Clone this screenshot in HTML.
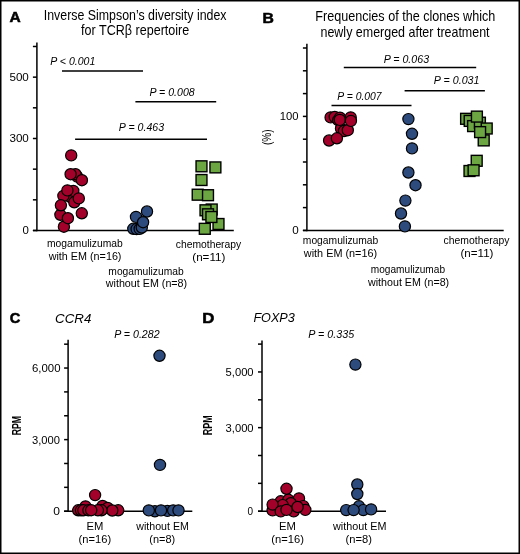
<!DOCTYPE html>
<html><head><meta charset="utf-8"><style>
html,body{margin:0;padding:0;background:#fff;}
svg{display:block;will-change:transform;}
text{font-family:"Liberation Sans",sans-serif;fill:#000;}
</style></head><body>
<svg width="520" height="554" viewBox="0 0 520 554">
<rect x="0" y="0" width="520" height="554" fill="#fff"/>
<text x="9.51" y="21.70" font-size="15" textLength="11.21" lengthAdjust="spacingAndGlyphs" font-weight="bold" stroke="#000" stroke-width="0.55">A</text>
<text x="43.79" y="20.00" font-size="13.9" textLength="182.75" lengthAdjust="spacingAndGlyphs">Inverse Simpson’s diversity index</text>
<text x="81.11" y="35.20" font-size="13.9" textLength="108.15" lengthAdjust="spacingAndGlyphs">for TCRβ repertoire</text>
<line x1="36.9" y1="42.5" x2="36.9" y2="231.25" stroke="#000" stroke-width="1.5"/>
<line x1="32.9" y1="230.5" x2="36.9" y2="230.5" stroke="#000" stroke-width="1.5"/>
<line x1="32.9" y1="199.83" x2="36.9" y2="199.83" stroke="#000" stroke-width="1.5"/>
<line x1="32.9" y1="169.16" x2="36.9" y2="169.16" stroke="#000" stroke-width="1.5"/>
<line x1="32.9" y1="138.49" x2="36.9" y2="138.49" stroke="#000" stroke-width="1.5"/>
<line x1="32.9" y1="107.82" x2="36.9" y2="107.82" stroke="#000" stroke-width="1.5"/>
<line x1="32.9" y1="77.15" x2="36.9" y2="77.15" stroke="#000" stroke-width="1.5"/>
<line x1="32.9" y1="46.48" x2="36.9" y2="46.48" stroke="#000" stroke-width="1.5"/>
<line x1="32.9" y1="230.5" x2="233.8" y2="230.5" stroke="#000" stroke-width="1.5"/>
<text x="9.43" y="81.15" font-size="11" textLength="19.41" lengthAdjust="spacingAndGlyphs">500</text>
<text x="9.43" y="142.49" font-size="11" textLength="19.41" lengthAdjust="spacingAndGlyphs">300</text>
<text x="22.44" y="234.30" font-size="11" textLength="6.37" lengthAdjust="spacingAndGlyphs">0</text>
<line x1="62" y1="71" x2="143" y2="71" stroke="#000" stroke-width="1.5"/>
<text x="50.28" y="65.30" font-size="10" textLength="45.03" lengthAdjust="spacingAndGlyphs" font-style="italic">P &lt; 0.001</text>
<line x1="135.4" y1="101.7" x2="216.2" y2="101.7" stroke="#000" stroke-width="1.5"/>
<text x="149.48" y="96.20" font-size="10" textLength="45.19" lengthAdjust="spacingAndGlyphs" font-style="italic">P = 0.008</text>
<line x1="75.1" y1="139.2" x2="207" y2="139.2" stroke="#000" stroke-width="1.5"/>
<text x="118.88" y="130.90" font-size="10" textLength="45.19" lengthAdjust="spacingAndGlyphs" font-style="italic">P = 0.463</text>
<text x="47.03" y="246.90" font-size="10.2" textLength="75.70" lengthAdjust="spacingAndGlyphs">mogamulizumab</text>
<text x="48.70" y="259.80" font-size="10.2" textLength="72.78" lengthAdjust="spacingAndGlyphs">with EM (n=16)</text>
<text x="108.33" y="274.70" font-size="10.2" textLength="75.40" lengthAdjust="spacingAndGlyphs">mogamulizumab</text>
<text x="105.80" y="287.40" font-size="10.2" textLength="81.36" lengthAdjust="spacingAndGlyphs">without EM (n=8)</text>
<text x="175.79" y="247.80" font-size="10.2" textLength="65.43" lengthAdjust="spacingAndGlyphs">chemotherapy</text>
<text x="192.30" y="260.50" font-size="10.2" textLength="33.04" lengthAdjust="spacingAndGlyphs">(n=11)</text>
<circle cx="63.9" cy="226.7" r="5.6" fill="#A3002A" stroke="#000" stroke-width="1.2"/>
<circle cx="81.8" cy="213.3" r="5.6" fill="#A3002A" stroke="#000" stroke-width="1.2"/>
<circle cx="60.4" cy="214.8" r="5.6" fill="#A3002A" stroke="#000" stroke-width="1.2"/>
<circle cx="67.9" cy="218.2" r="5.6" fill="#A3002A" stroke="#000" stroke-width="1.2"/>
<circle cx="70.5" cy="197" r="5.6" fill="#A3002A" stroke="#000" stroke-width="1.2"/>
<circle cx="63.4" cy="195.9" r="5.6" fill="#A3002A" stroke="#000" stroke-width="1.2"/>
<circle cx="60.9" cy="205.3" r="5.6" fill="#A3002A" stroke="#000" stroke-width="1.2"/>
<circle cx="73.3" cy="190.9" r="5.6" fill="#A3002A" stroke="#000" stroke-width="1.2"/>
<circle cx="67.4" cy="190.4" r="5.6" fill="#A3002A" stroke="#000" stroke-width="1.2"/>
<circle cx="74.3" cy="202.3" r="5.6" fill="#A3002A" stroke="#000" stroke-width="1.2"/>
<circle cx="78.8" cy="198.4" r="5.6" fill="#A3002A" stroke="#000" stroke-width="1.2"/>
<circle cx="77.2" cy="176.6" r="5.6" fill="#A3002A" stroke="#000" stroke-width="1.2"/>
<circle cx="75.5" cy="174.2" r="5.6" fill="#A3002A" stroke="#000" stroke-width="1.2"/>
<circle cx="70.6" cy="174.2" r="5.6" fill="#A3002A" stroke="#000" stroke-width="1.2"/>
<circle cx="81.9" cy="180.2" r="5.6" fill="#A3002A" stroke="#000" stroke-width="1.2"/>
<circle cx="71.2" cy="155.4" r="5.6" fill="#A3002A" stroke="#000" stroke-width="1.2"/>
<circle cx="133.3" cy="228.8" r="5.6" fill="#2E4B7D" stroke="#000" stroke-width="1.2"/>
<circle cx="136.6" cy="229.1" r="5.6" fill="#2E4B7D" stroke="#000" stroke-width="1.2"/>
<circle cx="139.7" cy="228.9" r="5.6" fill="#2E4B7D" stroke="#000" stroke-width="1.2"/>
<circle cx="141.8" cy="227.5" r="5.6" fill="#2E4B7D" stroke="#000" stroke-width="1.2"/>
<circle cx="136" cy="216.9" r="5.6" fill="#2E4B7D" stroke="#000" stroke-width="1.2"/>
<circle cx="147" cy="211.5" r="5.6" fill="#2E4B7D" stroke="#000" stroke-width="1.2"/>
<circle cx="143.1" cy="222.2" r="5.6" fill="#2E4B7D" stroke="#000" stroke-width="1.2"/>
<rect x="196.05" y="160.85" width="10.9" height="10.9" fill="#6CA642" stroke="#000" stroke-width="1.4"/>
<rect x="209.95" y="161.95" width="10.9" height="10.9" fill="#6CA642" stroke="#000" stroke-width="1.4"/>
<rect x="196.05" y="174.55" width="10.9" height="10.9" fill="#6CA642" stroke="#000" stroke-width="1.4"/>
<rect x="192.25" y="189.25" width="10.9" height="10.9" fill="#6CA642" stroke="#000" stroke-width="1.4"/>
<rect x="202.55" y="189.75" width="10.9" height="10.9" fill="#6CA642" stroke="#000" stroke-width="1.4"/>
<rect x="206.25" y="204.05" width="10.9" height="10.9" fill="#6CA642" stroke="#000" stroke-width="1.4"/>
<rect x="200.05" y="204.85" width="10.9" height="10.9" fill="#6CA642" stroke="#000" stroke-width="1.4"/>
<rect x="202.55" y="208.85" width="10.9" height="10.9" fill="#6CA642" stroke="#000" stroke-width="1.4"/>
<rect x="213.05" y="218.55" width="10.9" height="10.9" fill="#6CA642" stroke="#000" stroke-width="1.4"/>
<rect x="205.95" y="211.55" width="10.9" height="10.9" fill="#6CA642" stroke="#000" stroke-width="1.4"/>
<rect x="199.35" y="223.35" width="10.9" height="10.9" fill="#6CA642" stroke="#000" stroke-width="1.4"/>
<text x="262.58" y="22.70" font-size="15" textLength="11.37" lengthAdjust="spacingAndGlyphs" font-weight="bold" stroke="#000" stroke-width="0.55">B</text>
<text x="315.29" y="20.60" font-size="13.9" textLength="180.04" lengthAdjust="spacingAndGlyphs">Frequencies of the clones which</text>
<text x="320.49" y="36.50" font-size="13.9" textLength="169.10" lengthAdjust="spacingAndGlyphs">newly emerged after treatment</text>
<line x1="306.9" y1="43.8" x2="306.9" y2="231.15" stroke="#000" stroke-width="1.5"/>
<line x1="302.9" y1="230.4" x2="306.9" y2="230.4" stroke="#000" stroke-width="1.5"/>
<line x1="302.9" y1="207.6" x2="306.9" y2="207.6" stroke="#000" stroke-width="1.5"/>
<line x1="302.9" y1="184.8" x2="306.9" y2="184.8" stroke="#000" stroke-width="1.5"/>
<line x1="302.9" y1="162.0" x2="306.9" y2="162.0" stroke="#000" stroke-width="1.5"/>
<line x1="302.9" y1="139.2" x2="306.9" y2="139.2" stroke="#000" stroke-width="1.5"/>
<line x1="302.9" y1="116.4" x2="306.9" y2="116.4" stroke="#000" stroke-width="1.5"/>
<line x1="302.9" y1="93.6" x2="306.9" y2="93.6" stroke="#000" stroke-width="1.5"/>
<line x1="302.9" y1="70.8" x2="306.9" y2="70.8" stroke="#000" stroke-width="1.5"/>
<line x1="302.9" y1="48.0" x2="306.9" y2="48.0" stroke="#000" stroke-width="1.5"/>
<line x1="302.9" y1="230.4" x2="503.7" y2="230.4" stroke="#000" stroke-width="1.5"/>
<text x="279.76" y="120.40" font-size="11" textLength="18.78" lengthAdjust="spacingAndGlyphs">100</text>
<text x="292.23" y="234.40" font-size="11" textLength="6.49" lengthAdjust="spacingAndGlyphs">0</text>
<text transform="translate(271.40,145.00) rotate(-90)" x="0" y="0" font-size="12.5" font-weight="normal" textLength="15.55" lengthAdjust="spacingAndGlyphs">(%)</text>
<line x1="343.8" y1="67.5" x2="476.2" y2="67.5" stroke="#000" stroke-width="1.5"/>
<text x="383.68" y="63.20" font-size="10" textLength="45.39" lengthAdjust="spacingAndGlyphs" font-style="italic">P = 0.063</text>
<line x1="404.6" y1="90.7" x2="484.9" y2="90.7" stroke="#000" stroke-width="1.5"/>
<text x="433.88" y="84.40" font-size="10" textLength="45.55" lengthAdjust="spacingAndGlyphs" font-style="italic">P = 0.031</text>
<line x1="331.5" y1="105.6" x2="411.5" y2="105.6" stroke="#000" stroke-width="1.5"/>
<text x="337.39" y="99.60" font-size="10" textLength="44.22" lengthAdjust="spacingAndGlyphs" font-style="italic">P = 0.007</text>
<text x="302.83" y="244.40" font-size="10.2" textLength="75.50" lengthAdjust="spacingAndGlyphs">mogamulizumab</text>
<text x="303.80" y="256.90" font-size="10.2" textLength="73.38" lengthAdjust="spacingAndGlyphs">with EM (n=16)</text>
<text x="370.84" y="273.20" font-size="10.2" textLength="74.18" lengthAdjust="spacingAndGlyphs">mogamulizumab</text>
<text x="368.00" y="285.80" font-size="10.2" textLength="81.16" lengthAdjust="spacingAndGlyphs">without EM (n=8)</text>
<text x="443.58" y="244.20" font-size="10.2" textLength="65.84" lengthAdjust="spacingAndGlyphs">chemotherapy</text>
<text x="460.51" y="257.00" font-size="10.2" textLength="32.94" lengthAdjust="spacingAndGlyphs">(n=11)</text>
<circle cx="330.6" cy="117.4" r="5.6" fill="#A3002A" stroke="#000" stroke-width="1.2"/>
<circle cx="334.8" cy="117" r="5.6" fill="#A3002A" stroke="#000" stroke-width="1.2"/>
<circle cx="338.2" cy="120.2" r="5.6" fill="#A3002A" stroke="#000" stroke-width="1.2"/>
<circle cx="340" cy="117.7" r="5.6" fill="#A3002A" stroke="#000" stroke-width="1.2"/>
<circle cx="350.7" cy="117.4" r="5.6" fill="#A3002A" stroke="#000" stroke-width="1.2"/>
<circle cx="341" cy="128.5" r="5.6" fill="#A3002A" stroke="#000" stroke-width="1.2"/>
<circle cx="344" cy="131" r="5.6" fill="#A3002A" stroke="#000" stroke-width="1.2"/>
<circle cx="347.8" cy="130.2" r="5.6" fill="#A3002A" stroke="#000" stroke-width="1.2"/>
<circle cx="339.8" cy="119.9" r="5.6" fill="#A3002A" stroke="#000" stroke-width="1.2"/>
<circle cx="350.9" cy="120.9" r="5.6" fill="#A3002A" stroke="#000" stroke-width="1.2"/>
<circle cx="329.1" cy="140.5" r="5.6" fill="#A3002A" stroke="#000" stroke-width="1.2"/>
<circle cx="336.9" cy="138.3" r="5.6" fill="#A3002A" stroke="#000" stroke-width="1.2"/>
<circle cx="408.4" cy="119.1" r="5.6" fill="#2E4B7D" stroke="#000" stroke-width="1.2"/>
<circle cx="412" cy="133.8" r="5.6" fill="#2E4B7D" stroke="#000" stroke-width="1.2"/>
<circle cx="412" cy="148.4" r="5.6" fill="#2E4B7D" stroke="#000" stroke-width="1.2"/>
<circle cx="408.4" cy="172.5" r="5.6" fill="#2E4B7D" stroke="#000" stroke-width="1.2"/>
<circle cx="415.5" cy="185.2" r="5.6" fill="#2E4B7D" stroke="#000" stroke-width="1.2"/>
<circle cx="405.4" cy="200.6" r="5.6" fill="#2E4B7D" stroke="#000" stroke-width="1.2"/>
<circle cx="401" cy="213.5" r="5.6" fill="#2E4B7D" stroke="#000" stroke-width="1.2"/>
<circle cx="404.9" cy="226.4" r="5.6" fill="#2E4B7D" stroke="#000" stroke-width="1.2"/>
<rect x="460.65" y="113.35" width="10.9" height="10.9" fill="#6CA642" stroke="#000" stroke-width="1.4"/>
<rect x="464.25" y="115.45" width="10.9" height="10.9" fill="#6CA642" stroke="#000" stroke-width="1.4"/>
<rect x="467.65" y="120.65" width="10.9" height="10.9" fill="#6CA642" stroke="#000" stroke-width="1.4"/>
<rect x="474.45" y="117.25" width="10.9" height="10.9" fill="#6CA642" stroke="#000" stroke-width="1.4"/>
<rect x="481.25" y="123.05" width="10.9" height="10.9" fill="#6CA642" stroke="#000" stroke-width="1.4"/>
<rect x="471.45" y="111.15" width="10.9" height="10.9" fill="#6CA642" stroke="#000" stroke-width="1.4"/>
<rect x="478.25" y="134.95" width="10.9" height="10.9" fill="#6CA642" stroke="#000" stroke-width="1.4"/>
<rect x="474.65" y="126.65" width="10.9" height="10.9" fill="#6CA642" stroke="#000" stroke-width="1.4"/>
<rect x="471.25" y="155.35" width="10.9" height="10.9" fill="#6CA642" stroke="#000" stroke-width="1.4"/>
<rect x="464.05" y="165.55" width="10.9" height="10.9" fill="#6CA642" stroke="#000" stroke-width="1.4"/>
<rect x="468.15" y="164.85" width="10.9" height="10.9" fill="#6CA642" stroke="#000" stroke-width="1.4"/>
<text x="9.71" y="323.10" font-size="15" textLength="10.58" lengthAdjust="spacingAndGlyphs" font-weight="bold" stroke="#000" stroke-width="0.55">C</text>
<text x="55.07" y="322.50" font-size="12.5" textLength="36.23" lengthAdjust="spacingAndGlyphs" font-style="italic">CCR4</text>
<line x1="68.1" y1="339.8" x2="68.1" y2="511.95" stroke="#000" stroke-width="1.5"/>
<line x1="64.1" y1="511.2" x2="68.1" y2="511.2" stroke="#000" stroke-width="1.5"/>
<line x1="64.1" y1="487.34" x2="68.1" y2="487.34" stroke="#000" stroke-width="1.5"/>
<line x1="64.1" y1="463.48" x2="68.1" y2="463.48" stroke="#000" stroke-width="1.5"/>
<line x1="64.1" y1="439.62" x2="68.1" y2="439.62" stroke="#000" stroke-width="1.5"/>
<line x1="64.1" y1="415.76" x2="68.1" y2="415.76" stroke="#000" stroke-width="1.5"/>
<line x1="64.1" y1="391.9" x2="68.1" y2="391.9" stroke="#000" stroke-width="1.5"/>
<line x1="64.1" y1="368.04" x2="68.1" y2="368.04" stroke="#000" stroke-width="1.5"/>
<line x1="64.1" y1="344.18" x2="68.1" y2="344.18" stroke="#000" stroke-width="1.5"/>
<line x1="64.1" y1="511.2" x2="192.3" y2="511.2" stroke="#000" stroke-width="1.5"/>
<text x="32.03" y="372.04" font-size="11" textLength="28.50" lengthAdjust="spacingAndGlyphs">6,000</text>
<text x="32.05" y="443.62" font-size="11" textLength="27.97" lengthAdjust="spacingAndGlyphs">3,000</text>
<text x="53.32" y="515.20" font-size="11" textLength="6.72" lengthAdjust="spacingAndGlyphs">0</text>
<text transform="translate(20.50,435.37) rotate(-90)" x="0" y="0" font-size="12" font-weight="bold" textLength="19.46" lengthAdjust="spacingAndGlyphs">RPM</text>
<text x="114.18" y="337.70" font-size="10" textLength="45.40" lengthAdjust="spacingAndGlyphs" font-style="italic">P = 0.282</text>
<text x="86.60" y="529.50" font-size="10.5" textLength="16.85" lengthAdjust="spacingAndGlyphs">EM</text>
<text x="78.63" y="542.60" font-size="10.5" textLength="32.58" lengthAdjust="spacingAndGlyphs">(n=16)</text>
<text x="136.30" y="529.50" font-size="10.5" textLength="52.57" lengthAdjust="spacingAndGlyphs">without EM</text>
<text x="149.34" y="542.60" font-size="10.5" textLength="25.84" lengthAdjust="spacingAndGlyphs">(n=8)</text>
<circle cx="85.5" cy="506.4" r="5.6" fill="#A3002A" stroke="#000" stroke-width="1.2"/>
<circle cx="102.6" cy="506" r="5.6" fill="#A3002A" stroke="#000" stroke-width="1.2"/>
<circle cx="107.7" cy="508" r="5.6" fill="#A3002A" stroke="#000" stroke-width="1.2"/>
<circle cx="118.2" cy="510.3" r="5.6" fill="#A3002A" stroke="#000" stroke-width="1.2"/>
<circle cx="112.3" cy="510.5" r="5.6" fill="#A3002A" stroke="#000" stroke-width="1.2"/>
<circle cx="101.5" cy="510.3" r="5.6" fill="#A3002A" stroke="#000" stroke-width="1.2"/>
<circle cx="97.9" cy="510.3" r="5.6" fill="#A3002A" stroke="#000" stroke-width="1.2"/>
<circle cx="78.2" cy="510.3" r="5.6" fill="#A3002A" stroke="#000" stroke-width="1.2"/>
<circle cx="81" cy="510.3" r="5.6" fill="#A3002A" stroke="#000" stroke-width="1.2"/>
<circle cx="83.4" cy="510.3" r="5.6" fill="#A3002A" stroke="#000" stroke-width="1.2"/>
<circle cx="88.4" cy="510.3" r="5.6" fill="#A3002A" stroke="#000" stroke-width="1.2"/>
<circle cx="91.2" cy="510.2" r="5.6" fill="#A3002A" stroke="#000" stroke-width="1.2"/>
<circle cx="95.1" cy="495.1" r="5.6" fill="#A3002A" stroke="#000" stroke-width="1.2"/>
<circle cx="159.5" cy="355.8" r="5.6" fill="#2E4B7D" stroke="#000" stroke-width="1.2"/>
<circle cx="160" cy="464.9" r="5.6" fill="#2E4B7D" stroke="#000" stroke-width="1.2"/>
<circle cx="154.9" cy="511.3" r="5.6" fill="#2E4B7D" stroke="#000" stroke-width="1.2"/>
<circle cx="167.4" cy="510.9" r="5.6" fill="#2E4B7D" stroke="#000" stroke-width="1.2"/>
<circle cx="173.2" cy="510.4" r="5.6" fill="#2E4B7D" stroke="#000" stroke-width="1.2"/>
<circle cx="148.8" cy="510.4" r="5.6" fill="#2E4B7D" stroke="#000" stroke-width="1.2"/>
<circle cx="161" cy="510.4" r="5.6" fill="#2E4B7D" stroke="#000" stroke-width="1.2"/>
<circle cx="178.5" cy="510.4" r="5.6" fill="#2E4B7D" stroke="#000" stroke-width="1.2"/>
<text x="202.31" y="322.90" font-size="15" textLength="12.10" lengthAdjust="spacingAndGlyphs" font-weight="bold" stroke="#000" stroke-width="0.55">D</text>
<text x="253.42" y="322.30" font-size="12.5" textLength="41.43" lengthAdjust="spacingAndGlyphs" font-style="italic">FOXP3</text>
<line x1="262.0" y1="340.4" x2="262.0" y2="511.95" stroke="#000" stroke-width="1.5"/>
<line x1="258" y1="511.2" x2="262.0" y2="511.2" stroke="#000" stroke-width="1.5"/>
<line x1="258" y1="483.35" x2="262.0" y2="483.35" stroke="#000" stroke-width="1.5"/>
<line x1="258" y1="455.5" x2="262.0" y2="455.5" stroke="#000" stroke-width="1.5"/>
<line x1="258" y1="427.65" x2="262.0" y2="427.65" stroke="#000" stroke-width="1.5"/>
<line x1="258" y1="399.8" x2="262.0" y2="399.8" stroke="#000" stroke-width="1.5"/>
<line x1="258" y1="371.95" x2="262.0" y2="371.95" stroke="#000" stroke-width="1.5"/>
<line x1="258" y1="344.1" x2="262.0" y2="344.1" stroke="#000" stroke-width="1.5"/>
<line x1="258" y1="511.2" x2="386" y2="511.2" stroke="#000" stroke-width="1.5"/>
<text x="225.55" y="375.95" font-size="11" textLength="28.07" lengthAdjust="spacingAndGlyphs">5,000</text>
<text x="225.55" y="431.65" font-size="11" textLength="28.07" lengthAdjust="spacingAndGlyphs">3,000</text>
<text x="247.60" y="515.20" font-size="11" textLength="5.56" lengthAdjust="spacingAndGlyphs">0</text>
<text transform="translate(212.30,435.28) rotate(-90)" x="0" y="0" font-size="12" font-weight="bold" textLength="19.88" lengthAdjust="spacingAndGlyphs">RPM</text>
<text x="308.38" y="338.30" font-size="10" textLength="45.79" lengthAdjust="spacingAndGlyphs" font-style="italic">P = 0.335</text>
<text x="279.10" y="529.50" font-size="10.5" textLength="16.85" lengthAdjust="spacingAndGlyphs">EM</text>
<text x="271.33" y="542.60" font-size="10.5" textLength="32.68" lengthAdjust="spacingAndGlyphs">(n=16)</text>
<text x="333.00" y="529.50" font-size="10.5" textLength="53.38" lengthAdjust="spacingAndGlyphs">without EM</text>
<text x="345.63" y="542.60" font-size="10.5" textLength="26.37" lengthAdjust="spacingAndGlyphs">(n=8)</text>
<circle cx="280.75" cy="501.3" r="5.6" fill="#A3002A" stroke="#000" stroke-width="1.2"/>
<circle cx="288.4" cy="499.8" r="5.6" fill="#A3002A" stroke="#000" stroke-width="1.2"/>
<circle cx="299" cy="498.4" r="5.6" fill="#A3002A" stroke="#000" stroke-width="1.2"/>
<circle cx="290.8" cy="503.2" r="5.6" fill="#A3002A" stroke="#000" stroke-width="1.2"/>
<circle cx="282.7" cy="505.1" r="5.6" fill="#A3002A" stroke="#000" stroke-width="1.2"/>
<circle cx="272.6" cy="510.4" r="5.6" fill="#A3002A" stroke="#000" stroke-width="1.2"/>
<circle cx="272.6" cy="504.6" r="5.6" fill="#A3002A" stroke="#000" stroke-width="1.2"/>
<circle cx="280.75" cy="511.4" r="5.6" fill="#A3002A" stroke="#000" stroke-width="1.2"/>
<circle cx="293.7" cy="511.4" r="5.6" fill="#A3002A" stroke="#000" stroke-width="1.2"/>
<circle cx="303.3" cy="506.1" r="5.6" fill="#A3002A" stroke="#000" stroke-width="1.2"/>
<circle cx="305.3" cy="509.9" r="5.6" fill="#A3002A" stroke="#000" stroke-width="1.2"/>
<circle cx="297.6" cy="507.0" r="5.6" fill="#A3002A" stroke="#000" stroke-width="1.2"/>
<circle cx="286.5" cy="509.9" r="5.6" fill="#A3002A" stroke="#000" stroke-width="1.2"/>
<circle cx="286.5" cy="488.8" r="5.6" fill="#A3002A" stroke="#000" stroke-width="1.2"/>
<circle cx="355.4" cy="364.6" r="5.6" fill="#2E4B7D" stroke="#000" stroke-width="1.2"/>
<circle cx="357.3" cy="484.5" r="5.6" fill="#2E4B7D" stroke="#000" stroke-width="1.2"/>
<circle cx="357.3" cy="494" r="5.6" fill="#2E4B7D" stroke="#000" stroke-width="1.2"/>
<circle cx="359" cy="506.3" r="5.6" fill="#2E4B7D" stroke="#000" stroke-width="1.2"/>
<circle cx="363.3" cy="510.1" r="5.6" fill="#2E4B7D" stroke="#000" stroke-width="1.2"/>
<circle cx="346.2" cy="510.1" r="5.6" fill="#2E4B7D" stroke="#000" stroke-width="1.2"/>
<circle cx="353.6" cy="510.1" r="5.6" fill="#2E4B7D" stroke="#000" stroke-width="1.2"/>
<circle cx="371.1" cy="509.4" r="5.6" fill="#2E4B7D" stroke="#000" stroke-width="1.2"/>
<rect x="0.75" y="0.75" width="518.5" height="552.5" fill="none" stroke="#000" stroke-width="1.5"/>
</svg>
</body></html>
